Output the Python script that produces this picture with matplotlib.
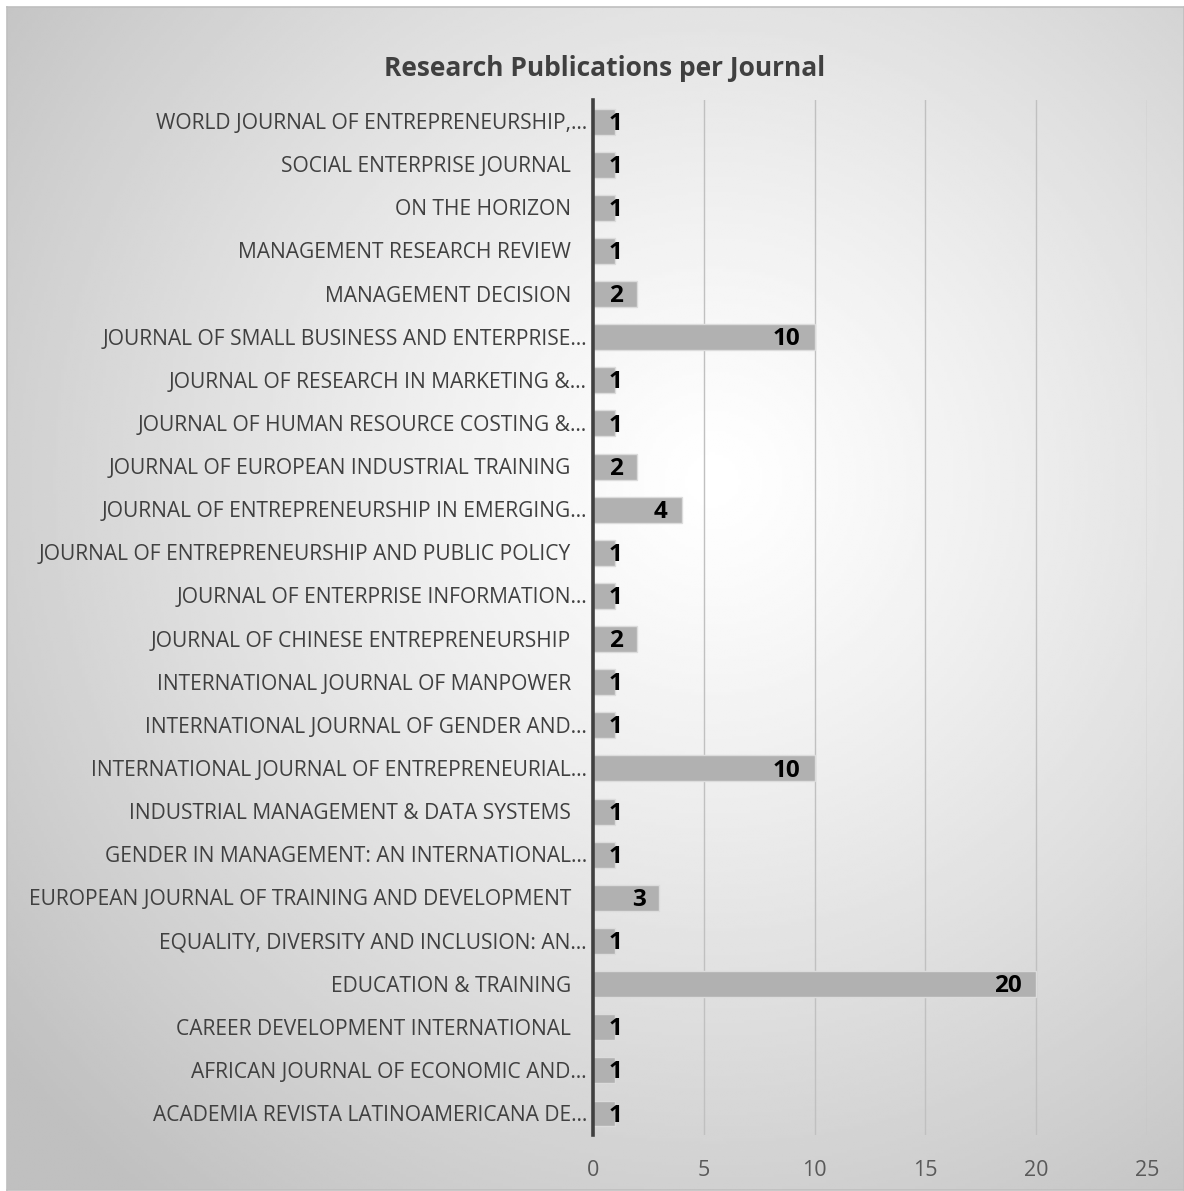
import matplotlib
matplotlib.use("Agg")
import matplotlib.pyplot as plt
import numpy as np

# journals listed top to bottom as in the chart
journals = [
    "WORLD JOURNAL OF ENTREPRENEURSHIP,…",
    "SOCIAL ENTERPRISE JOURNAL",
    "ON THE HORIZON",
    "MANAGEMENT RESEARCH REVIEW",
    "MANAGEMENT DECISION",
    "JOURNAL OF SMALL BUSINESS AND ENTERPRISE…",
    "JOURNAL OF RESEARCH IN MARKETING &…",
    "JOURNAL OF HUMAN RESOURCE COSTING &…",
    "JOURNAL OF EUROPEAN INDUSTRIAL TRAINING",
    "JOURNAL OF ENTREPRENEURSHIP IN EMERGING…",
    "JOURNAL OF ENTREPRENEURSHIP AND PUBLIC POLICY",
    "JOURNAL OF ENTERPRISE INFORMATION…",
    "JOURNAL OF CHINESE ENTREPRENEURSHIP",
    "INTERNATIONAL JOURNAL OF MANPOWER",
    "INTERNATIONAL JOURNAL OF GENDER AND…",
    "INTERNATIONAL JOURNAL OF ENTREPRENEURIAL…",
    "INDUSTRIAL MANAGEMENT & DATA SYSTEMS",
    "GENDER IN MANAGEMENT: AN INTERNATIONAL…",
    "EUROPEAN JOURNAL OF TRAINING AND DEVELOPMENT",
    "EQUALITY, DIVERSITY AND INCLUSION: AN…",
    "EDUCATION & TRAINING",
    "CAREER DEVELOPMENT INTERNATIONAL",
    "AFRICAN JOURNAL OF ECONOMIC AND…",
    "ACADEMIA REVISTA LATINOAMERICANA DE…",
]
publications = [1, 1, 1, 1, 2, 10, 1, 1, 2, 4, 1, 1, 2, 1, 1, 10, 1, 1, 3, 1, 20, 1, 1, 1]
x_ticks = [0, 5, 10, 15, 20, 25]

TITLE = "Research Publications per Journal"
FONT = "Open Sans"
TEXT_COL = "#404040"

W, H = 1184, 1191
fig = plt.figure(figsize=(W / 100, H / 100), dpi=100)
fig.patch.set_facecolor("white")

# chart frame with a radial grey gradient (Excel style)
fx0, fy0 = 7 / W, 1 - 1190 / H
fw, fh = 1 - fx0, 1183 / H
bg = fig.add_axes([fx0, fy0, fw, fh], zorder=0)
gx, gy = np.meshgrid(np.linspace(0, 1, 400), np.linspace(0, 1, 400))
r = np.sqrt((gx - 0.6) ** 2 + (gy - 0.4) ** 2)
r = np.clip(r / 0.78, 0, 1)
shade = 1.0 - 0.25 * r ** 1.2
bg.imshow(shade, cmap="gray", vmin=0, vmax=1, extent=[0, 1, 0, 1],
          aspect="auto", origin="upper", interpolation="bilinear")
bg.set_xticks([])
bg.set_yticks([])
for s in bg.spines.values():
    s.set_color("#bfbfbf")
    s.set_linewidth(1.2)

ax = fig.add_axes([593 / W, 1 - 1135 / H, (1147 - 593) / W, (1135 - 100) / H], zorder=1)
ax.patch.set_alpha(0)

y = np.arange(len(journals))[::-1]
ax.barh(y, publications, height=0.6, color="#b1b1b1", edgecolor="#dcdcdc",
        linewidth=1.0, zorder=2)

ax.set_xlim(0, 25)
ax.set_ylim(-0.5, len(journals) - 0.5)
ax.set_xticks(x_ticks)
ax.set_xticklabels([str(t) for t in x_ticks], fontsize=15.5, color="#595959", family=FONT)
ax.tick_params(axis="x", length=0, pad=18)
ax.set_yticks([])
ax.grid(axis="x", color="#c0c0c0", linewidth=1.0, zorder=1)
ax.set_axisbelow(True)
for k in ["top", "right", "bottom"]:
    ax.spines[k].set_visible(False)
ax.spines["left"].set_color("#404040")
ax.spines["left"].set_linewidth(2.6)
ax.spines["left"].set_zorder(3)

# category labels; full names sit a bit further from the axis than clipped ones
for yi, name in zip(y, journals):
    off = -6 if name.endswith("…") else -22
    ax.annotate(name, xy=(0, yi), xycoords=("axes fraction", "data"),
                xytext=(off, -2), textcoords="offset pixels",
                ha="right", va="center", fontsize=15.1, color=TEXT_COL, family=FONT)

# value labels at the inside end of each bar
for yi, v in zip(y, publications):
    xr = max(v - 0.63, 1.31)
    ax.text(xr, yi - 0.05, str(v), ha="right", va="center", fontsize=17.5,
            fontweight="bold", color="black", family=FONT, zorder=4)

fig.text(605 / W, 1 - 68 / H, TITLE, ha="center", va="center", fontsize=19,
         fontweight="bold", color=TEXT_COL, family=FONT)

fig.savefig("out.png", dpi=100)
